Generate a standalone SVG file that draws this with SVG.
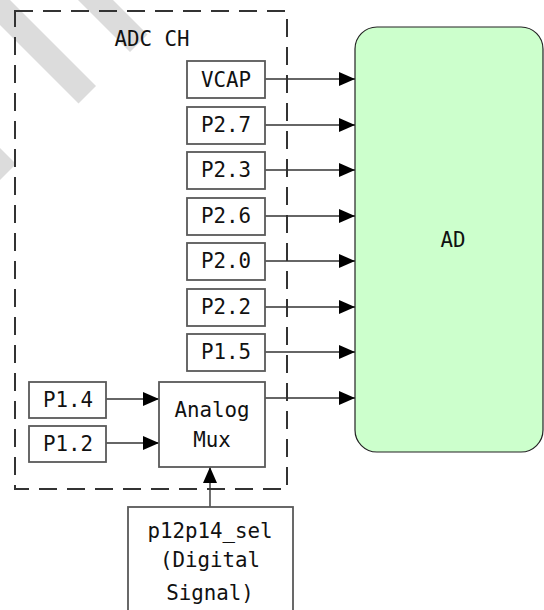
<svg xmlns="http://www.w3.org/2000/svg" width="544" height="610" viewBox="0 0 544 610">
<style>
.t{font-family:"DejaVu Sans Mono","Liberation Mono",monospace;font-size:20.8px;fill:#111;text-anchor:middle}
.box{fill:#fff;stroke:#595959;stroke-width:1.8}
.ln{stroke:#333;stroke-width:1.4;fill:none}
.wm{fill:#dcdcdc;stroke:none}
</style>
<defs>
<marker id="ah" viewBox="0 0 16 14" refX="16" refY="7" markerWidth="16" markerHeight="14" markerUnits="userSpaceOnUse" orient="auto">
<path d="M0,0 L16,7 L0,14 z" fill="#000"/>
</marker>
</defs>
<rect width="544" height="610" fill="#fff"/>
<g id="watermark">
<polygon class="wm" points="0,0 10,0 96,86 78.5,103.5 0,25"/>
<polygon class="wm" points="78,0 113,0 147.5,34.5 130,52"/>
<polygon class="wm" points="0,148 16,164 0,180"/>
</g>
<g id="adc-ch">
<rect x="15" y="11" width="272" height="478" fill="none" stroke="#333" stroke-width="2" stroke-dasharray="18 10"/>
<text class="t" x="152" y="46">ADC CH</text>
</g>
<g id="ad">
<rect x="355" y="27" width="188" height="425" rx="22" fill="#ccffcc" stroke="#222" stroke-width="1.2"/>
<text class="t" x="453" y="247">AD</text>
</g>
<g id="connectors">
<line class="ln" x1="265" y1="79" x2="355" y2="79" marker-end="url(#ah)"/>
<line class="ln" x1="265" y1="125" x2="355" y2="125" marker-end="url(#ah)"/>
<line class="ln" x1="265" y1="170" x2="355" y2="170" marker-end="url(#ah)"/>
<line class="ln" x1="265" y1="216" x2="355" y2="216" marker-end="url(#ah)"/>
<line class="ln" x1="265" y1="261" x2="355" y2="261" marker-end="url(#ah)"/>
<line class="ln" x1="265" y1="307" x2="355" y2="307" marker-end="url(#ah)"/>
<line class="ln" x1="265" y1="352" x2="355" y2="352" marker-end="url(#ah)"/>
<line class="ln" x1="265" y1="398" x2="355" y2="398" marker-end="url(#ah)"/>
<line class="ln" x1="106" y1="399" x2="159" y2="399" marker-end="url(#ah)"/>
<line class="ln" x1="106" y1="443" x2="159" y2="443" marker-end="url(#ah)"/>
<line class="ln" x1="210" y1="507" x2="210" y2="467" marker-end="url(#ah)"/>
</g>
<g id="vcap"><rect class="box" x="187" y="61" width="78" height="37"/><text class="t" x="226" y="87">VCAP</text></g>
<g id="p27"><rect class="box" x="187" y="107" width="78" height="37"/><text class="t" x="226" y="132">P2.7</text></g>
<g id="p23"><rect class="box" x="187" y="152" width="78" height="37"/><text class="t" x="226" y="177">P2.3</text></g>
<g id="p26"><rect class="box" x="187" y="198" width="78" height="37"/><text class="t" x="226" y="223">P2.6</text></g>
<g id="p20"><rect class="box" x="187" y="243" width="78" height="37"/><text class="t" x="226" y="268">P2.0</text></g>
<g id="p22"><rect class="box" x="187" y="289" width="78" height="37"/><text class="t" x="226" y="314">P2.2</text></g>
<g id="p15"><rect class="box" x="187" y="334" width="78" height="37"/><text class="t" x="226" y="359">P1.5</text></g>
<g id="p14"><rect class="box" x="29" y="382" width="77" height="36"/><text class="t" x="68" y="407">P1.4</text></g>
<g id="p12"><rect class="box" x="29" y="426" width="77" height="36"/><text class="t" x="68" y="451">P1.2</text></g>
<g id="mux"><rect class="box" x="159" y="382" width="106" height="85"/><text class="t" x="212" y="417">Analog</text><text class="t" x="212" y="447">Mux</text></g>
<g id="sel"><rect class="box" x="128" y="507" width="165" height="120"/><text class="t" x="210" y="538">p12p14_sel</text><text class="t" x="210" y="567">(Digital</text><text class="t" x="210" y="600">Signal)</text></g>
</svg>
